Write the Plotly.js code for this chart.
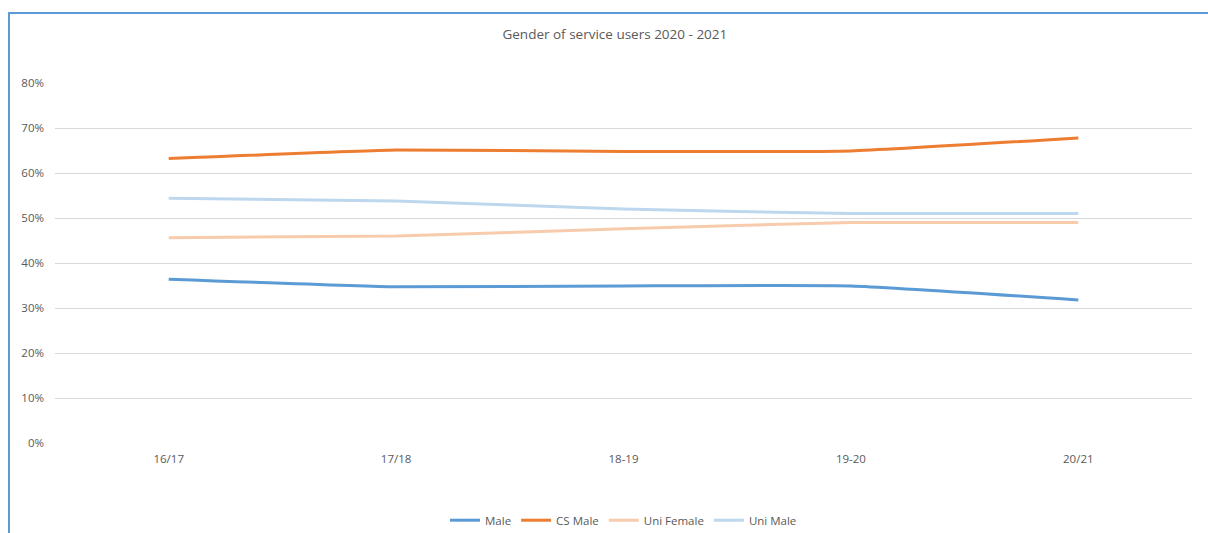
<!DOCTYPE html>
<html>
<head>
<meta charset="utf-8">
<script src="https://cdn.plot.ly/plotly-3.0.1.min.js"></script>
<style>
  html, body { margin: 0; padding: 0; background: #fff; }
  #wrap { position: relative; width: 1208px; height: 533px; }
  #chart { width: 1208px; height: 533px; }
  #frame { position: absolute; left: 8px; top: 12px; width: 1200px; height: 521px;
           border-top: 2px solid #5B9BD5; border-left: 2px solid #5B9BD5; pointer-events: none; box-sizing: border-box; }
</style>
</head>
<body>
<div id="wrap">
  <div id="chart"></div>
  <div id="frame"></div>
</div>
<script>
const categories = ["16/17", "17/18", "18-19", "19-20", "20/21"];
const male       = [0.364, 0.347, 0.349, 0.349, 0.318];
const csMale     = [0.632, 0.651, 0.648, 0.649, 0.678];
const uniFemale  = [0.456, 0.460, 0.476, 0.490, 0.490];
const uniMale    = [0.544, 0.538, 0.520, 0.510, 0.510];
const seriesNames = ["Male", "CS Male", "Uni Female", "Uni Male"];
const seriesColors = ["#5B9BD5", "#ED7D31", "#F8CBAD", "#BDD7EE"];
const seriesValues = [male, csMale, uniFemale, uniMale];

const traces = seriesValues.map((vals, i) => ({
  type: "scatter",
  mode: "lines",
  name: seriesNames[i],
  x: categories,
  y: vals,
  line: { color: seriesColors[i], width: 3, shape: "spline", smoothing: 0.4 },
  hoverinfo: "x+y+name"
}));

const layout = {
  width: 1208,
  height: 533,
  margin: { l: 55, r: 16, t: 83, b: 90 },
  paper_bgcolor: "#ffffff",
  plot_bgcolor: "#ffffff",
  font: { family: "Open Sans, Liberation Sans, sans-serif", size: 11.5, color: "#595959" },
  title: {
    text: "Gender of service users 2020 - 2021",
    font: { size: 13.5, color: "#595959" },
    x: 0.509, xanchor: "center", y: 0.936, yanchor: "middle"
  },
  xaxis: {
    type: "category",
    range: [-0.5, 4.5],
    showgrid: false,
    zeroline: false,
    showline: false,
    ticks: "",
    ticklabelstandoff: 7,
    tickfont: { size: 11.5, color: "#595959" }
  },
  yaxis: {
    range: [0, 0.8],
    tickvals: [0, 0.1, 0.2, 0.3, 0.4, 0.5, 0.6, 0.7, 0.8],
    tickformat: ".0%",
    showgrid: true,
    gridcolor: "#D9D9D9",
    gridwidth: 1,
    zeroline: false,
    showline: false,
    ticks: "",
    ticklabelstandoff: 10,
    tickfont: { size: 11.5, color: "#595959" }
  },
  showlegend: true,
  legend: {
    orientation: "h",
    x: 0.5, xanchor: "center",
    yref: "container",
    y: 0.024, yanchor: "middle",
    font: { size: 11.5, color: "#595959" },
    itemwidth: 30
  }
};

Plotly.newPlot("chart", traces, layout, { displayModeBar: false, responsive: false });
</script>
</body>
</html>
